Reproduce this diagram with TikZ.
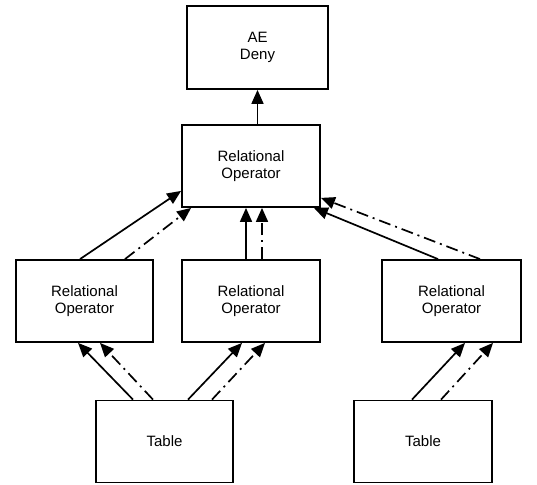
\documentclass[tikz,border=0pt]{standalone}
\usepackage{fontspec}
\setmainfont{Liberation Sans}
\usetikzlibrary{arrows.meta,calc}
\tikzset{
  box/.style={draw, line width=1.8pt, rectangle, align=center, inner sep=0pt,
    font=\fontsize{15}{17.7}\selectfont},
  arr/.style={line width=1.7pt, -{Triangle[length=14pt,width=12pt]}},
  dd/.style={arr, dash pattern=on 12pt off 5pt on 2pt off 5pt},
}
\begin{document}
\begin{tikzpicture}[x=1pt,y=-1pt]
\useasboundingbox (0,0) rectangle (537,484);
\node[box, minimum width=141pt, minimum height=83pt] (top) at (257.5,47.5) {AE\\Deny};
\node[box, minimum width=138pt, minimum height=82pt] (mid) at (251,166) {Relational\\Operator};
\node[box, minimum width=137pt, minimum height=82pt] (lro) at (84.5,301) {Relational\\Operator};
\node[box, minimum width=138pt, minimum height=82pt] (cro) at (251,301) {Relational\\Operator};
\node[box, minimum width=139pt, minimum height=82pt] (rro) at (451.5,301) {Relational\\Operator};
\node[box, minimum width=137pt, minimum height=82pt] (lt) at (164.5,441.5) {Table};
\node[box, minimum width=138pt, minimum height=82pt] (rt) at (423,441.5) {Table};

\draw[arr] (mid.north -| top.south) -- (top.south);

\draw[arr] ([xshift=-4.5pt]lro.north) -- ([yshift=17pt]mid.south west);
\draw[dd]  ([xshift=40.5pt]lro.north) -- ([xshift=10pt]mid.south west);
\draw[arr] ([xshift=-5pt]cro.north) -- ([xshift=-5pt]mid.south);
\draw[dd]  ([xshift=11pt]cro.north) -- ([xshift=11pt]mid.south);
\draw[arr] ([xshift=-13.5pt]rro.north) -- ([xshift=-7pt]mid.south east);
\draw[dd]  ([xshift=28.5pt]rro.north) -- ([yshift=10pt]mid.south east);

\draw[arr] ([xshift=-31.5pt]lt.north) -- ([xshift=-6.5pt]lro.south);
\draw[dd]  ([xshift=-11.5pt]lt.north) -- ([xshift=15.5pt]lro.south);
\draw[arr] ([xshift=23.5pt]lt.north) -- ([xshift=-9pt]cro.south);
\draw[dd]  ([xshift=47.5pt]lt.north) -- ([xshift=14pt]cro.south);
\draw[arr] ([xshift=-11pt]rt.north) -- ([xshift=13.5pt]rro.south);
\draw[dd]  ([xshift=18pt]rt.north) -- ([xshift=41.5pt]rro.south);
\end{tikzpicture}
\end{document}
